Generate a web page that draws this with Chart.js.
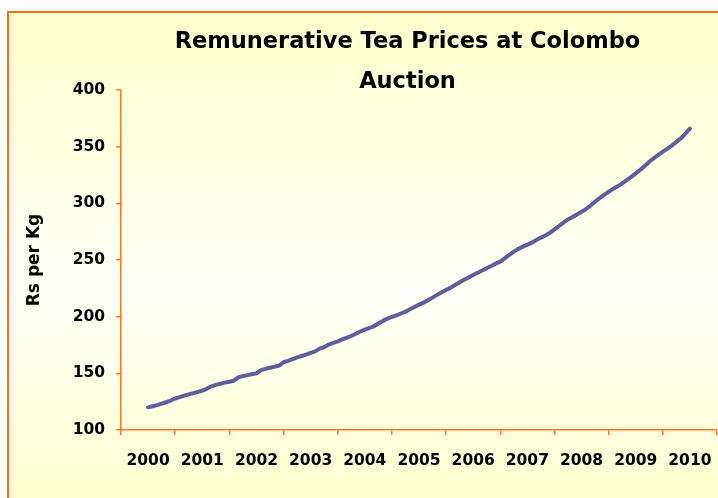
<!DOCTYPE html>
<html>
<head>
<meta charset="utf-8">
<title>Remunerative Tea Prices at Colombo Auction</title>
<script src="https://cdn.jsdelivr.net/npm/chart.js@4.4.1/dist/chart.umd.min.js"></script>
<style>
    html, body { margin: 0; padding: 0; background: #ffffff; overflow: hidden; }
    canvas { display: block; }
</style>
</head>
<body>
<canvas id="teaChart" width="718" height="498"></canvas>
<script>
// Year labels along the bottom axis
const years = ['2000', '2001', '2002', '2003', '2004', '2005', '2006', '2007', '2008', '2009', '2010'];

// Monthly remunerative price (Rs per Kg), mid 2000 to mid 2010, one row per 12 months
const monthlyPrice = [
    120.0, 121.0, 122.0, 123.2, 124.5, 126.0, 127.8, 129.0, 130.3, 131.4, 132.5, 133.5,
    134.7, 136.3, 138.5, 139.8, 140.8, 141.8, 142.6, 143.5, 146.5, 147.5, 148.4, 149.2,
    150.0, 152.8, 154.0, 154.9, 155.8, 156.8, 159.8, 161.0, 162.5, 164.0, 165.3, 166.5,
    168.0, 169.4, 171.8, 173.0, 175.4, 176.8, 178.2, 180.0, 181.4, 183.0, 185.0, 186.9,
    188.6, 190.0, 191.5, 194.0, 196.3, 198.3, 199.9, 201.2, 202.8, 204.4, 206.6, 208.6,
    210.6, 212.4, 214.5, 216.8, 219.2, 221.5, 223.6, 225.6, 228.0, 230.3, 232.5, 234.6,
    236.8, 238.8, 240.8, 242.7, 244.7, 246.8, 248.5, 251.5, 254.6, 257.4, 259.8, 261.8,
    263.5, 265.3, 267.6, 269.8, 271.6, 274.0, 277.0, 280.0, 283.0, 285.8, 288.0, 290.2,
    292.5, 295.0, 298.0, 301.5, 304.6, 307.5, 310.2, 312.8, 315.0, 317.6, 320.5, 323.4,
    326.5, 329.6, 333.0, 336.7, 339.8, 342.8, 345.6, 348.2, 351.0, 354.2, 357.4, 361.6,
    366.0
];

// Value axis ticks
const yTicks = [100, 150, 200, 250, 300, 350, 400];

const axisOrange = '#FF7A22';
const labelFont = { family: 'DejaVu Sans', size: 15.5, weight: 'bold' };

// Month i sits i/12 of a year after the middle of the 2000 slot
const points = monthlyPrice.map((v, i) => ({ x: 0.5 + i / 12, y: v }));

// Yellow panel with orange frame behind the chart, title centred on the panel
const chartPanel = {
    id: 'chartPanel',
    afterLayout(chart) {
        chart.titleBlock.left = 8;
        chart.titleBlock.right = 807;
    },
    beforeDraw(chart) {
        const ctx = chart.ctx;
        ctx.save();
        ctx.fillStyle = '#ffffff';
        ctx.fillRect(0, 0, chart.width, chart.height);
        const grad = ctx.createLinearGradient(0, 12, 0, 520);
        grad.addColorStop(0, '#FFFFCC');
        grad.addColorStop(0.55, '#FFFFF8');
        grad.addColorStop(1, '#FFFFCC');
        ctx.fillStyle = grad;
        ctx.fillRect(8, 12, 800, 520);
        ctx.strokeStyle = '#FF6A1A';
        ctx.lineWidth = 2;
        ctx.strokeRect(8, 12, 800, 520);
        ctx.restore();
    }
};

new Chart(document.getElementById('teaChart'), {
    type: 'line',
    data: {
        labels: years,
        datasets: [{
            label: 'Remunerative price',
            data: points,
            xAxisID: 'x2',
            borderColor: '#5E5E9C',
            borderWidth: 4,
            borderCapStyle: 'round',
            borderJoinStyle: 'round',
            pointRadius: 0,
            tension: 0,
            fill: false
        }]
    },
    options: {
        responsive: false,
        animation: false,
        layout: { padding: { left: 0, right: 1, top: 0, bottom: 0 } },
        plugins: {
            legend: { display: false },
            tooltip: { enabled: false },
            title: {
                display: true,
                text: ['Remunerative Tea Prices at Colombo', 'Auction'],
                color: '#000000',
                font: { family: 'DejaVu Sans', size: 22.5, weight: 'bold', lineHeight: '40px' },
                padding: { top: 22, bottom: -12 }
            }
        },
        scales: {
            x: {
                type: 'category',
                offset: true,
                grid: { offset: true, drawOnChartArea: false, color: axisOrange, tickLength: 5, lineWidth: 1.5 },
                border: { color: axisOrange, width: 1.5 },
                ticks: { color: '#000000', font: labelFont, padding: 17, maxRotation: 0, autoSkip: false },
                afterFit(scale) {
                    // labels sit inside their slots, so no side padding is needed
                    scale.height = 68;
                    scale.paddingLeft = 0;
                    scale.paddingRight = 0;
                }
            },
            x2: {
                type: 'linear',
                min: 0,
                max: years.length,
                display: false
            },
            y: {
                min: yTicks[0],
                max: yTicks[yTicks.length - 1],
                grid: { drawOnChartArea: false, color: axisOrange, tickLength: 5, lineWidth: 1.5 },
                border: { color: axisOrange, width: 1.5 },
                ticks: { stepSize: yTicks[1] - yTicks[0], color: '#000000', font: labelFont, padding: 11 },
                title: {
                    display: true,
                    text: 'Rs per Kg',
                    color: '#000000',
                    font: { family: 'DejaVu Sans', size: 17, weight: 'bold' },
                    padding: { top: 24, bottom: 0 }
                },
                afterFit(scale) { scale.width = 121; }
            }
        }
    },
    plugins: [chartPanel]
});
</script>
</body>
</html>
